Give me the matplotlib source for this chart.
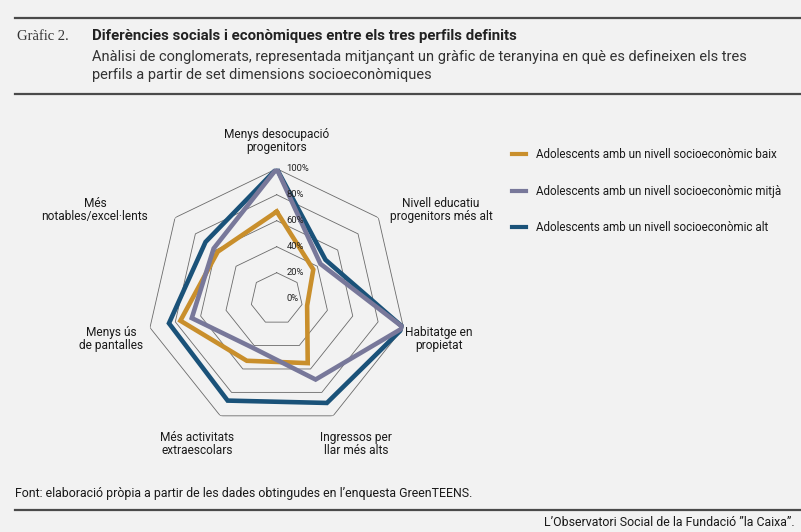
import numpy as np
import matplotlib
matplotlib.use("Agg")
import matplotlib.pyplot as plt
from matplotlib.transforms import ScaledTranslation

plt.rcParams['font.family'] = ['Roboto', 'DejaVu Sans']

# ---- data ----
categories = ["Menys desocupació\nprogenitors", "Nivell educatiu\nprogenitors més alt",
              "Habitatge en\npropietat", "Ingressos per\nllar més alts",
              "Més activitats\nextraescolars", "Menys ús\nde pantalles",
              "Més\nnotables/excel·lents"]
series_names = ["Adolescents amb un nivell socioeconòmic baix",
                "Adolescents amb un nivell socioeconòmic mitjà",
                "Adolescents amb un nivell socioeconòmic alt"]
baix = [0.67, 0.36, 0.24, 0.55, 0.53, 0.76, 0.58]
mitja = [1.00, 0.43, 1.00, 0.69, 0.42, 0.67, 0.62]
alt = [1.00, 0.48, 1.00, 0.89, 0.87, 0.85, 0.70]
grid_levels = [0.2, 0.4, 0.6, 0.8, 1.0]
tick_levels = [0.0, 0.2, 0.4, 0.6, 0.8, 1.0]
tick_labels = ["0%", "20%", "40%", "60%", "80%", "100%"]

colors = {"baix": "#c98f2c", "mitja": "#78789a", "alt": "#1a5279"}
BG = "#f2f2f2"
W, H = 801, 532

fig = plt.figure(figsize=(W / 100, H / 100), dpi=100, facecolor=BG)

# polar axes placed so centre is at (276.7, 298.7) px and radius 130 px
cx, cy, R = 276.7, 298.7, 130
ax = fig.add_axes([(cx - R) / W, (H - cy - R) / H, 2 * R / W, 2 * R / H], projection='polar')
ax.set_facecolor('none')
ax.set_theta_offset(np.pi / 2)
ax.set_theta_direction(-1)
ax.set_ylim(0, 1)
ax.grid(False)
ax.spines['polar'].set_visible(False)
ax.set_xticks([])
ax.set_yticks([])

n = len(categories)
theta = np.linspace(0, 2 * np.pi, n, endpoint=False)
theta_c = np.append(theta, theta[0])

for lv in grid_levels:
    ax.plot(theta_c, [lv] * (n + 1), color="#6a6a6a", lw=0.6, zorder=1)

def closed(v):
    return list(v) + [v[0]]

ax.plot(theta_c, closed(alt), color=colors["alt"], lw=3.3, zorder=3, solid_joinstyle='miter')
ax.plot(theta_c, closed(baix), color=colors["baix"], lw=3.3, zorder=4, solid_joinstyle='miter')
ax.plot(theta_c, closed(mitja), color=colors["mitja"], lw=3.3, zorder=5, solid_joinstyle='miter')

off = ScaledTranslation(10 / 100, 0, fig.dpi_scale_trans)
for lv, lab in zip(tick_levels, tick_labels):
    ax.text(0, lv, lab, transform=ax.transData + off, fontsize=6.8, color="#222222",
            ha='left', va='center', zorder=6)

# category labels (pixel positions of label centres)
label_pos = [(277, 141), (441, 210), (439, 339), (356, 444), (197, 444), (111, 339), (95, 210)]
for lab, (x, y) in zip(categories, label_pos):
    fig.text(x / W, 1 - y / H, lab, ha='center', va='center', fontsize=8.6,
             color="#1a1a1a", linespacing=1.0)

# legend
leg_y = [154, 191, 227]
for name, key, y in zip(series_names, ["baix", "mitja", "alt"], leg_y):
    fig.add_artist(plt.Line2D([512 / W, 526 / W], [1 - y / H, 1 - y / H], color=colors[key],
                              lw=3, transform=fig.transFigure))
    fig.text(536 / W, 1 - y / H, name, ha='left', va='center', fontsize=8.4, color="#1a1a1a")

# header
def hrule(y, x0=15, x1=801, lw=1.6):
    fig.add_artist(plt.Line2D([x0 / W, x1 / W], [1 - y / H, 1 - y / H], color="#4a4a4a",
                              lw=lw, transform=fig.transFigure))

hrule(18)
hrule(94)
hrule(510)
fig.text(17 / W, 1 - 37 / H, "Gràfic 2.", family=['Liberation Serif', 'DejaVu Serif'],
         fontsize=10.5, color="#333333", va='center', ha='left')
fig.text(92 / W, 1 - 36 / H, "Diferències socials i econòmiques entre els tres perfils definits",
         fontsize=10.8, fontweight='bold', color="#222222", va='center', ha='left')
fig.text(92 / W, 1 - 57 / H,
         "Anàlisi de conglomerats, representada mitjançant un gràfic de teranyina en què es defineixen els tres",
         fontsize=10.55, color="#333333", va='center', ha='left')
fig.text(92 / W, 1 - 75 / H, "perfils a partir de set dimensions socioeconòmiques",
         fontsize=10.55, color="#333333", va='center', ha='left')

fig.text(15 / W, 1 - 494 / H,
         "Font: elaboració pròpia a partir de les dades obtingudes en l’enquesta GreenTEENS.",
         fontsize=8.9, color="#1a1a1a", va='center', ha='left')
fig.text(795 / W, 1 - 522 / H, "L’Observatori Social de la Fundació ”la Caixa”.",
         fontsize=8.9, color="#1a1a1a", va='center', ha='right')

fig.savefig("out.png", dpi=100, facecolor=BG)
